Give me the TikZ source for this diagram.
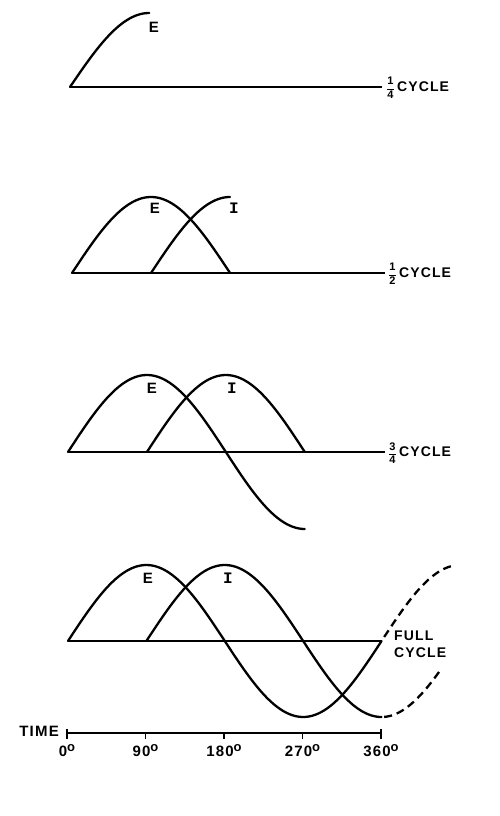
\documentclass[tikz,border=0pt]{standalone}
\usepackage{fontspec}
\setmainfont{Liberation Sans}
\newfontfamily\lettering[LetterSpace=8]{Liberation Sans}
\newfontfamily\serifI{Liberation Mono}
\begin{document}
\begin{tikzpicture}[x=1pt,y=-1pt,
  wave/.style={line width=2.3pt, line cap=round},
  axisline/.style={line width=1.7pt},
  dwave/.style={line width=2.3pt, dash pattern=on 8pt off 5pt},
  lbl/.style={font=\lettering\bfseries\fontsize{15}{16}\selectfont, inner sep=0pt},
  ilbl/.style={font=\serifI\bfseries\fontsize{16}{16}\selectfont, inner sep=0pt},
  cyc/.style={font=\lettering\bfseries\fontsize{14}{15}\selectfont, inner sep=0pt, anchor=west},
  frac/.style={inner sep=0pt, anchor=west}]
\useasboundingbox (0,0) rectangle (500,816);
\newcommand{\fr}[2]{$\displaystyle\frac{\mbox{\bfseries\fontsize{11}{11}\selectfont #1}}{\mbox{\bfseries\fontsize{11}{11}\selectfont #2}}$}
\newcommand{\dg}{{\fontsize{13}{13}\selectfont\raisebox{0.42em}{o}}}

% ---------- 1/4 cycle ----------
\begin{scope}[shift={(70,87)}]
  \coordinate (a1s) at (0,0);
  \coordinate (a1e) at (312,0);
  \draw[axisline] (a1s) -- (a1e);
  \draw[wave] plot[domain=0:90, samples=40, smooth] ({\x*0.88}, {-74*sin(\x)});
\end{scope}
\node[lbl] (e1) at (154,27) {E};
\node[frac] (f1) at (386,88) {\fr{1}{4}};
\node[cyc] (c1) at (f1.east) [xshift=2pt, yshift=1pt] {CYCLE};

% ---------- 1/2 cycle ----------
\begin{scope}[shift={(72,273)}]
  \coordinate (a2s) at (0,0);
  \coordinate (a2e) at (313,0);
  \draw[axisline] (a2s) -- (a2e);
  \draw[wave] plot[domain=0:180, samples=60, smooth] ({\x*0.878}, {-76*sin(\x)});
  \draw[wave] plot[domain=90:180, samples=40, smooth] ({\x*0.878}, {-76*sin(\x-90)});
\end{scope}
\node[lbl] (e2) at (155,208) {E};
\node[ilbl] (i2) at (234,208) {I};
\node[frac] (f2) at (388,274) {\fr{1}{2}};
\node[cyc] (c2) at (f2.east) [xshift=2pt, yshift=1pt] {CYCLE};

% ---------- 3/4 cycle ----------
\begin{scope}[shift={(68,452)}]
  \coordinate (a3s) at (0,0);
  \coordinate (a3e) at (317,0);
  \draw[axisline] (a3s) -- (a3e);
  \draw[wave] plot[domain=0:270, samples=80, smooth] ({\x*0.877}, {-77*sin(\x)});
  \draw[wave] plot[domain=90:270, samples=60, smooth] ({\x*0.877}, {-77*sin(\x-90)});
\end{scope}
\node[lbl] (e3) at (152,388) {E};
\node[ilbl] (i3) at (232,388) {I};
\node[frac] (f3) at (388,453) {\fr{3}{4}};
\node[cyc] (c3) at (f3.east) [xshift=2pt, yshift=1pt] {CYCLE};

% ---------- full cycle ----------
\begin{scope}[shift={(68,641)}]
  \coordinate (a4s) at (0,0);
  \coordinate (a4e) at (313,0);
  \draw[axisline] (a4s) -- (a4e);
  \draw[wave] plot[domain=0:360, samples=100, smooth] ({\x*0.871}, {-76*sin(\x)});
  \draw[wave] plot[domain=90:360, samples=90, smooth] ({\x*0.871}, {-76*sin(\x-90)});
  \draw[dwave] plot[domain=363:442, samples=40, smooth] ({\x*0.871}, {-76*sin(\x)});
  \draw[dwave] plot[domain=363:428, samples=40, smooth] ({\x*0.871}, {-76*sin(\x-90)});
\end{scope}
\node[lbl] (e4) at (148,578) {E};
\node[ilbl] (i4) at (228,578) {I};
\node[cyc, align=left] (fc) at (394,644) {FULL\\[2pt]CYCLE};

% ---------- time axis ----------
\coordinate (t0) at (67,733);
\coordinate (t4) at (381,733);
\draw[axisline] (t0) -- (t4);
\foreach \i/\d in {0/0,1/90,2/180,3/270,4/360}{
  \coordinate (tk\i) at ({67+\i*78.5},733);
  \draw[line width=1.2pt] (tk\i) -- ++(0,6);
  \node[lbl, anchor=north] (tl\i) at ([yshift=-11pt]tk\i) {\d\dg};
}
\draw[line width=1.2pt] (tk0) -- ++(0,-4);
\draw[line width=1.2pt] (tk4) -- ++(0,-4);
\node[lbl, anchor=east] (time) at (59,731) {TIME};
\end{tikzpicture}
\end{document}
